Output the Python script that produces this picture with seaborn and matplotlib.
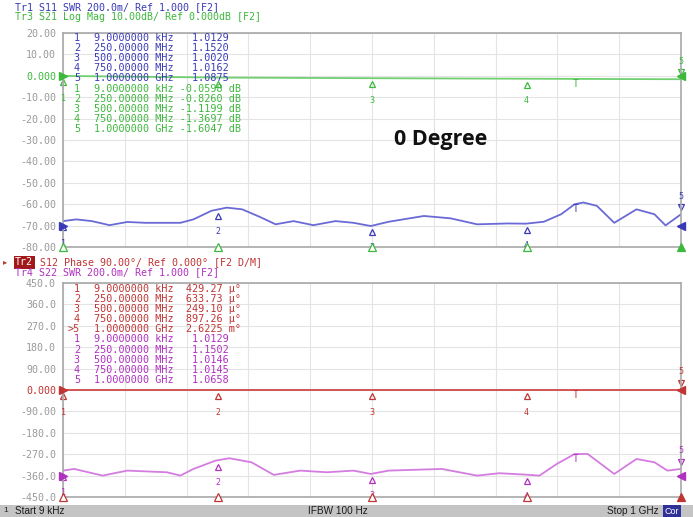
import numpy as np
import pandas as pd
import matplotlib.pyplot as plt
import seaborn as sns
from matplotlib.transforms import offset_copy, blended_transform_factory

sns.set_theme(style="white")
plt.rcParams['font.family'] = ['DejaVu Sans Mono', 'DejaVu Sans']

# ---- data (frequency in MHz) ----
freq_s11 = [0, 21.5, 46.6, 75.3, 104, 133, 190, 211, 240, 265, 290, 319, 344, 373, 405,
            441, 470, 498, 527, 584, 627, 670, 720, 749, 778, 806, 828, 842, 864, 892,
            928, 957, 975, 1000]
s11_disp = [-67.9, -67.1, -67.9, -69.8, -68.3, -68.7, -68.7, -67.1, -63.1, -61.6, -62.4,
            -66.0, -69.4, -67.9, -69.8, -67.9, -68.7, -70.2, -68.2, -65.5, -66.6, -69.4,
            -69.0, -69.1, -68.2, -64.7, -60.0, -59.2, -60.8, -68.7, -62.4, -64.7, -69.9, -64.7]

freq_s22 = [0, 18, 64, 104, 168, 190, 211, 247, 269, 305, 341, 384, 427, 470, 498, 527,
            613, 670, 706, 749, 771, 799, 828, 849, 892, 928, 957, 978, 1000]
s22_disp = [-339, -332, -360, -339, -346, -360, -332, -297, -287, -304, -357, -339, -346,
            -339, -353, -339, -332, -360, -350, -356, -360, -311, -269, -269, -353, -290,
            -304, -339, -332]

marker_freq = [0.009, 250, 500, 750, 1000]
s21_db = [-0.0598, -0.8260, -1.1199, -1.3697, -1.6047]
s12_phase = [0.00042927, 0.00063373, 0.00024910, 0.00089726, 0.0026225]

mk_freq_txt = ['9.0000000 kHz', '250.00000 MHz', '500.00000 MHz', '750.00000 MHz', '1.0000000 GHz']
s11_vals = ['1.0129', '1.1520', '1.0020', '1.0162', '1.0875']
s21_vals = ['-0.0598 dB', '-0.8260 dB', '-1.1199 dB', '-1.3697 dB', '-1.6047 dB']
s12_vals = ['429.27 µ°', '633.73 µ°', '249.10 µ°', '897.26 µ°', '2.6225 m°']
s22_vals = ['1.0129', '1.1502', '1.0146', '1.0145', '1.0658']

top_ticks = [20, 10, 0, -10, -20, -30, -40, -50, -60, -70, -80]
top_labels = ['20.00', '10.00', '0.000', '-10.00', '-20.00', '-30.00', '-40.00',
              '-50.00', '-60.00', '-70.00', '-80.00']
bot_ticks = [450, 360, 270, 180, 90, 0, -90, -180, -270, -360, -450]
bot_labels = ['450.0', '360.0', '270.0', '180.0', '90.00', '0.000', '-90.00',
              '-180.0', '-270.0', '-360.0', '-450.0']

BLUE, BLUE_T = '#3a3ab8', '#6a6ad6'
GREEN, GREEN_T = '#3cb83c', '#70d070'
RED, RED_T = '#c03434', '#d04848'
MAG, MAG_T = '#b030c0', '#d47ce0'

W, H = 693, 517
fig = plt.figure(figsize=(W / 100, H / 100), dpi=100)


def fx(x):
    return x / W


def fy(y):
    return 1 - y / H


ax1 = fig.add_axes([fx(63), fy(247), 618 / W, 214 / H])
ax2 = fig.add_axes([fx(63), fy(497), 618 / W, 214 / H])


def setup(ax, ticks, labels, zero_col):
    ax.set_xlim(0, 1000)
    ax.set_ylim(ticks[-1], ticks[0])
    ax.set_xticks(np.linspace(0, 1000, 11))
    ax.set_xticklabels([])
    ax.set_yticks(ticks)
    ax.set_yticklabels(labels, fontsize=7.2)
    ax.tick_params(axis='both', length=0, pad=5)
    for lab, t in zip(ax.get_yticklabels(), ticks):
        lab.set_color(zero_col if t == 0 else '#9a9a9a')
    ax.grid(True, color='#e4e4e4', linewidth=0.8)
    for sp in ax.spines.values():
        sp.set_color('#a8a8a8')
        sp.set_linewidth(1.2)
    ax.set_xlabel('')
    ax.set_ylabel('')


def trace_markers(ax, x, y, color, hide_nums=()):
    below_tri = offset_copy(ax.transData, fig=fig, y=-4.5, units='points')
    above_tri = offset_copy(ax.transData, fig=fig, y=5, units='points')
    for i, f in enumerate(marker_freq):
        v = np.interp(f, x, y)
        show = (i + 1) not in hide_nums
        if i < 4:
            ax.plot(f, v, marker='^', ms=5, mfc='none', mec=color, mew=0.9,
                    transform=below_tri, clip_on=False)
            if show:
                ax.annotate(str(i + 1), (f, v), xytext=(0, -16), textcoords='offset points',
                            ha='center', va='center', fontsize=6, color=color)
        else:
            ax.plot(f, v, marker='v', ms=5, mfc='none', mec=color, mew=0.9,
                    transform=above_tri, clip_on=False)
            if show:
                ax.annotate(str(i + 1), (f, v), xytext=(0, 13), textcoords='offset points',
                            ha='center', va='center', fontsize=6, color=color)
    vt = np.interp(830, x, y)
    ax.annotate('T', (830, vt), xytext=(0, 0), textcoords='offset points',
                ha='center', va='top', fontsize=7, color=color)


def stim_markers(ax, color):
    for i, f in enumerate(marker_freq):
        ax.plot(f, ax.get_ylim()[0], marker='^', ms=6, mec=color, mew=0.9,
                mfc=color if i == 4 else 'white', clip_on=False, zorder=5)


def ref_arrows(ax, level, color, left=True, right=True):
    tr = blended_transform_factory(ax.transAxes, ax.transData)
    if left:
        ax.plot(0, level, marker='>', ms=6, color=color, transform=tr, clip_on=False, zorder=6)
    if right:
        ax.plot(1, level, marker='<', ms=6, color=color, transform=tr, clip_on=False, zorder=6)


# ---- top panel: S11 SWR (blue), S21 LogMag (green) ----
df11 = pd.DataFrame({'freq': freq_s11, 'val': s11_disp})
df21 = pd.DataFrame({'freq': marker_freq, 'val': s21_db})
sns.lineplot(data=df21, x='freq', y='val', ax=ax1, color=GREEN_T, linewidth=1.3)
sns.lineplot(data=df11, x='freq', y='val', ax=ax1, color=BLUE_T, linewidth=1.3)
setup(ax1, top_ticks, top_labels, GREEN)
trace_markers(ax1, freq_s11, s11_disp, BLUE)
trace_markers(ax1, marker_freq, s21_db, GREEN, hide_nums=(2,))
stim_markers(ax1, GREEN)
ref_arrows(ax1, 0, GREEN)
ref_arrows(ax1, -70, BLUE)

# ---- bottom panel: S12 phase (red), S22 SWR (magenta) ----
df22 = pd.DataFrame({'freq': freq_s22, 'val': s22_disp})
df12 = pd.DataFrame({'freq': marker_freq, 'val': s12_phase})
sns.lineplot(data=df12, x='freq', y='val', ax=ax2, color=RED_T, linewidth=1.3)
sns.lineplot(data=df22, x='freq', y='val', ax=ax2, color=MAG_T, linewidth=1.3)
setup(ax2, bot_ticks, bot_labels, RED)
trace_markers(ax2, freq_s22, s22_disp, MAG)
trace_markers(ax2, marker_freq, s12_phase, RED)
stim_markers(ax2, RED)
ref_arrows(ax2, 0, RED)
ref_arrows(ax2, -360, MAG)

# ---- trace headers ----
fig.text(fx(15), fy(7), 'Tr1 S11 SWR 200.0m/ Ref 1.000 [F2]', color=BLUE,
         fontsize=7.2, va='center')
fig.text(fx(15), fy(17), 'Tr3 S21 Log Mag 10.00dB/ Ref 0.000dB [F2]', color=GREEN,
         fontsize=7.2, va='center')
fig.text(fx(15), fy(262), 'Tr2', color='white', fontsize=7.2, va='center',
         bbox=dict(boxstyle='square,pad=0.15', fc='#a01818', ec='none'))
fig.text(fx(3), fy(262), '▸', color=RED, fontsize=6, va='center', family='DejaVu Sans')
fig.text(fx(40), fy(262), 'S12 Phase 90.00°/ Ref 0.000° [F2 D/M]', color=RED,
         fontsize=7.2, va='center')
fig.text(fx(15), fy(272), 'Tr4 S22 SWR 200.0m/ Ref 1.000 [F2]', color=MAG,
         fontsize=7.2, va='center')


# ---- marker tables ----
def table(y0, rows, color):
    for k, (n, txt) in enumerate(rows):
        y = y0 + k * 10.1
        fig.text(fx(80), fy(y), n, color=color, fontsize=7.3, va='center', ha='right')
        fig.text(fx(94), fy(y), txt, color=color, fontsize=7.3, va='center')


table(38, [(str(i + 1), f'{mk_freq_txt[i]}  {s11_vals[i]:>7}') for i in range(5)], BLUE)
table(88.5, [(str(i + 1), f'{mk_freq_txt[i]} {s21_vals[i]:>10}') for i in range(5)], GREEN)
table(289, [('>5' if i == 4 else str(i + 1), f'{mk_freq_txt[i]}  {s12_vals[i]:>9}')
            for i in range(5)], RED)
table(339.5, [(str(i + 1), f'{mk_freq_txt[i]}  {s22_vals[i]:>7}') for i in range(5)], MAG)

# ---- annotation ----
fig.text(fx(441), fy(140), '0 Degree', fontsize=15.5, fontweight='bold',
         family='Open Sans', color='#111111', ha='center', va='center')

# ---- status bar ----
fig.patches.append(plt.Rectangle((0, 0), 1, 12 / H, transform=fig.transFigure,
                                 fc='#c4c4c4', ec='none'))
for x, t, ha in [(15, 'Start 9 kHz', 'left'), (338, 'IFBW 100 Hz', 'center'),
                 (659, 'Stop 1 GHz', 'right')]:
    fig.text(fx(x), fy(511), t, fontsize=7.2, family='Liberation Sans', color='#1a1a1a',
             ha=ha, va='center')
fig.text(fx(672), fy(511), 'Cor', fontsize=6.5, family='Liberation Sans', color='white',
         ha='center', va='center', bbox=dict(boxstyle='square,pad=0.15', fc='#30309a', ec='none'))
fig.text(fx(3), fy(511), '1', fontsize=6, family='Liberation Sans', color='#222222', va='center')

fig.savefig('out.png', dpi=100)
